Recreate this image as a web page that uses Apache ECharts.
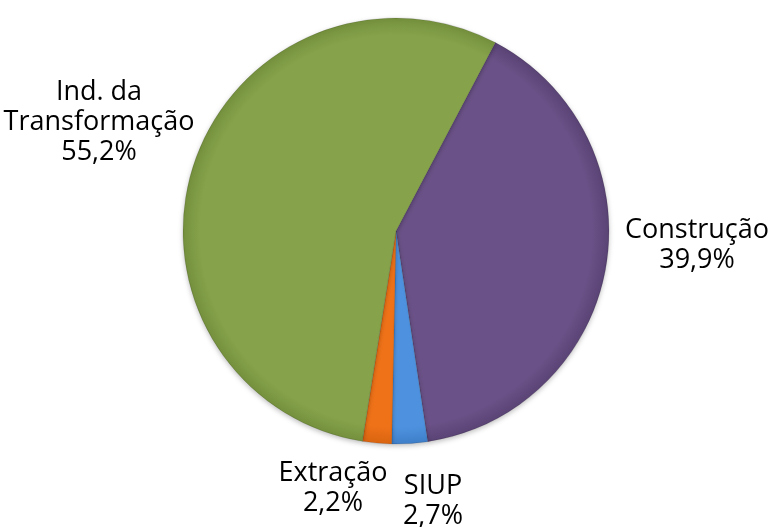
<!DOCTYPE html>
<html><head><meta charset="utf-8">
<script src="https://cdn.jsdelivr.net/npm/echarts@6/dist/echarts.min.js"></script>
<style>html,body{margin:0;padding:0;background:#fff}#c{width:774px;height:527px}</style>
</head><body><div id="c"></div>
<script>
const categories = ['Construção', 'SIUP', 'Extração', 'Ind. da\nTransformação'];
const values = [39.9, 2.7, 2.2, 55.2];
const colors = ['#6a5187', '#4e92df', '#ef7218', '#86a34b'];
const edgeColors = ['#5a4375', '#3f7fc9', '#d96410', '#74903d'];
const labelPos = [[697, 245], [433, 501], [333, 488], [99, 122]];

const CX = 396, CY = 231, R = 213;
const chart = echarts.init(document.getElementById('c'));
chart.setOption({
  animation: false,
  series: [{
    type: 'pie',
    center: [CX, CY],
    radius: R,
    startAngle: 62.2,
    clockwise: true,
    data: categories.map((n, i) => ({
      name: n, value: values[i],
      itemStyle: {
        color: {
          type: 'radial', x: CX, y: CY, r: R, global: true,
          colorStops: [
            {offset: 0, color: colors[i]},
            {offset: 0.92, color: colors[i]},
            {offset: 1, color: edgeColors[i]}
          ]
        }
      }
    })),
    itemStyle: { borderColor: 'rgba(0,0,0,0.12)', borderWidth: 1, shadowColor: 'rgba(0,0,0,0.25)', shadowBlur: 5, shadowOffsetY: 2 },
    label: {
      show: true, position: 'outside', overflow: 'none', width: 300,
      fontFamily: 'Open Sans', fontSize: 27, color: '#000', lineHeight: 30,
      formatter: p => p.name + '\n' + p.value.toFixed(1).replace('.', ',') + '%'
    },
    labelLine: { show: false },
    labelLayout: p => ({ x: labelPos[p.dataIndex][0], y: labelPos[p.dataIndex][1], align: 'center', verticalAlign: 'middle' })
  }]
});
</script></body></html>
